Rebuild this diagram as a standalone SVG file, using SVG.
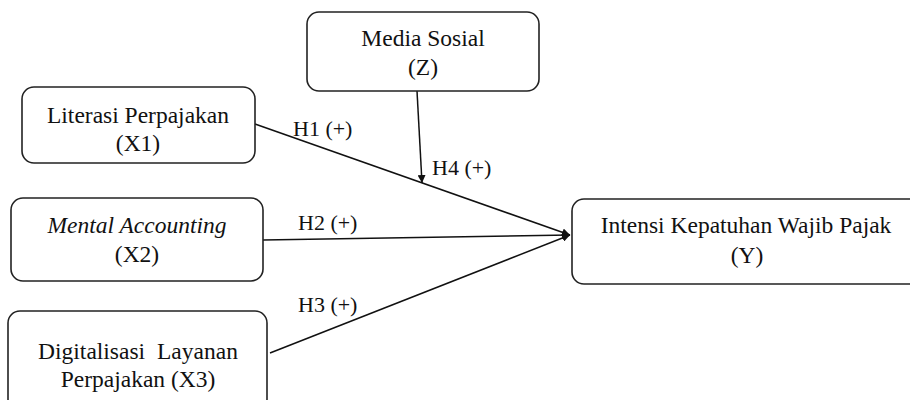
<svg xmlns="http://www.w3.org/2000/svg" width="910" height="400" viewBox="0 0 910 400">
<defs>
<style>
.box{fill:#fff;stroke:#222;stroke-width:1.6}
.t{font-size:23.5px;fill:#111;text-anchor:middle}
.lbl{font-size:22px;fill:#111}
.ln{stroke:#111;stroke-width:1.5;fill:none;marker-end:url(#ah)}
</style>
<marker id="ah" viewBox="0 0 10 10" refX="10" refY="5" markerWidth="8" markerHeight="8" markerUnits="userSpaceOnUse" orient="auto">
<path d="M0,0 L10,5 L0,10 z" fill="#111"/>
</marker>
</defs>
<rect width="910" height="400" fill="#fff"/>
<g font-family="Liberation Serif, DejaVu Serif, serif">
<g id="connectors">
<line class="ln" x1="255" y1="124" x2="570" y2="235"/>
<line class="ln" x1="263" y1="240" x2="570" y2="235"/>
<line class="ln" x1="270" y1="353" x2="570" y2="235"/>
<line class="ln" x1="417" y1="91" x2="422" y2="183"/>
<text class="lbl" x="293" y="136">H1 (+)</text>
<text class="lbl" x="432" y="175">H4 (+)</text>
<text class="lbl" x="298" y="230">H2 (+)</text>
<text class="lbl" x="298" y="312">H3 (+)</text>
</g>
<g id="media-sosial">
<rect class="box" x="307" y="12" width="232" height="79" rx="12"/>
<text class="t" x="423" y="46">Media Sosial</text>
<text class="t" x="423" y="75">(Z)</text>
</g>
<g id="literasi">
<rect class="box" x="22" y="87" width="233" height="76" rx="12"/>
<text class="t" x="138" y="123">Literasi Perpajakan</text>
<text class="t" x="138" y="151">(X1)</text>
</g>
<g id="mental">
<rect class="box" x="11" y="198" width="252" height="83" rx="12"/>
<text class="t" x="137" y="233" font-style="italic">Mental Accounting</text>
<text class="t" x="137" y="262">(X2)</text>
</g>
<g id="digital">
<rect class="box" x="8" y="311" width="259" height="100" rx="12"/>
<text class="t" x="138" y="359" word-spacing="6">Digitalisasi Layanan</text>
<text class="t" x="138" y="387">Perpajakan (X3)</text>
</g>
<g id="intensi">
<rect class="box" x="572" y="199" width="350" height="85" rx="12"/>
<text class="t" x="746" y="233">Intensi Kepatuhan Wajib Pajak</text>
<text class="t" x="747" y="263">(Y)</text>
</g>
</g>
</svg>
